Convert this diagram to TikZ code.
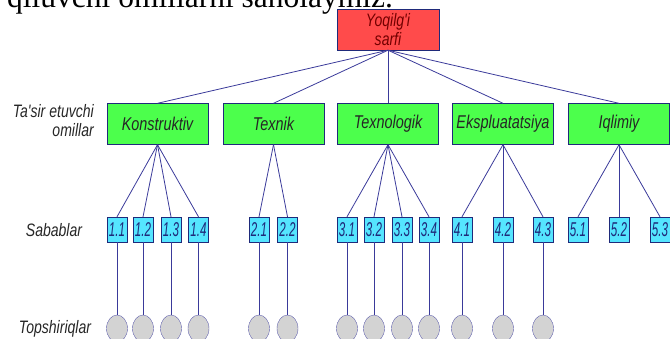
\documentclass[tikz,border=0pt]{standalone}
\usepackage{fontspec}
\usetikzlibrary{shapes.geometric}
\setmainfont{Liberation Serif}
\newfontfamily\isofont[FakeStretch=0.78]{Liberation Sans}
\newfontfamily\isonarrow[FakeStretch=0.58]{Liberation Sans}

\definecolor{topred}{HTML}{FF4B4B}
\definecolor{facgreen}{HTML}{4CFF4C}
\definecolor{causecyan}{HTML}{55E5FF}
\definecolor{taskgray}{HTML}{D3D3D3}
\definecolor{edgenavy}{HTML}{1F2A7A}
\definecolor{linenavy}{HTML}{3A3A9A}

\begin{document}
\begin{tikzpicture}[x=1pt, y=-1pt]

\tikzstyle{TOP} = [rectangle, minimum width=102pt, minimum height=41pt, inner sep=0pt, align=center, draw=edgenavy, fill=topred, text=red!45!black, font=\isofont\itshape\fontsize{18}{19}\selectfont]
\tikzstyle{FACTOR} = [rectangle, minimum width=101pt, minimum height=41pt, inner sep=0pt, draw=edgenavy, fill=facgreen, text=black!85, font=\isofont\itshape\fontsize{18.5}{20}\selectfont]
\tikzstyle{CAUSE} = [rectangle, minimum width=20pt, minimum height=25pt, inner sep=0pt, draw=edgenavy, fill=causecyan, text=edgenavy, font=\isonarrow\itshape\fontsize{20}{22}\selectfont]
\tikzstyle{TASK} = [ellipse, minimum width=21pt, minimum height=27pt, inner sep=0pt, draw=linenavy!80, fill=taskgray]
\tikzstyle{LABEL} = [inner sep=0pt, text=black!85, font=\isofont\itshape\fontsize{18}{19}\selectfont]
\tikzstyle{LINE} = [draw=linenavy, line width=0.8pt]

\useasboundingbox (0,0) rectangle (670,338);
\clip (0,0) rectangle (670,338);

% text of the page above the figure
\node (pagetext) [anchor=base west, inner sep=0pt, font=\fontsize{31.5}{34}\selectfont] at (7,7) {qiluvchi omillarni sanolaymiz.};

% fuel consumption
\node (sarf) [TOP] at (388,29.5) {Yoqilg'i\\sarfi};

% row labels
\node (omil) [LABEL, anchor=east, align=right] at (94,121) {Ta'sir etuvchi\\omillar};
\node (sabab) [LABEL] at (54,230) {Sabablar};
\node (topsh) [LABEL] at (55,329) {Topshiriqlar};

% factors
\node (konst) [FACTOR] at (157.5,124) {Konstruktiv};
\node (texnik) [FACTOR] at (273.5,124) {Texnik};
\node (texnol) [FACTOR] at (388,124) {Texnologik};
\node (ekspl) [FACTOR] at (503,124) {Ekspluatatsiya};
\node (iqlim) [FACTOR] at (619,124) {Iqlimiy};

% causes
\node (s11) [CAUSE] at (117,229.5) {1.1};
\node (s12) [CAUSE] at (143,229.5) {1.2};
\node (s13) [CAUSE] at (171,229.5) {1.3};
\node (s14) [CAUSE] at (198.5,229.5) {1.4};
\node (s21) [CAUSE] at (259,229.5) {2.1};
\node (s22) [CAUSE] at (287.5,229.5) {2.2};
\node (s31) [CAUSE] at (347,229.5) {3.1};
\node (s32) [CAUSE] at (374,229.5) {3.2};
\node (s33) [CAUSE] at (402,229.5) {3.3};
\node (s34) [CAUSE] at (429,229.5) {3.4};
\node (s41) [CAUSE] at (462,229.5) {4.1};
\node (s42) [CAUSE] at (503,229.5) {4.2};
\node (s43) [CAUSE] at (543,229.5) {4.3};
\node (s51) [CAUSE] at (578,229.5) {5.1};
\node (s52) [CAUSE] at (619,229.5) {5.2};
\node (s53) [CAUSE] at (660,229.5) {5.3};

% tasks
\node (t11) [TASK] at (117,328.5) {};
\node (t12) [TASK] at (143,328.5) {};
\node (t13) [TASK] at (171,328.5) {};
\node (t14) [TASK] at (198.5,328.5) {};
\node (t21) [TASK] at (259,328.5) {};
\node (t22) [TASK] at (287.5,328.5) {};
\node (t31) [TASK] at (347,328.5) {};
\node (t32) [TASK] at (374,328.5) {};
\node (t33) [TASK] at (402,328.5) {};
\node (t34) [TASK] at (429,328.5) {};
\node (t41) [TASK] at (462,328.5) {};
\node (t42) [TASK] at (503,328.5) {};
\node (t43) [TASK] at (543,328.5) {};

\draw[LINE] (sarf.south) to (konst.north);
\draw[LINE] (sarf.south) to (texnik.north);
\draw[LINE] (sarf.south) to (texnol.north);
\draw[LINE] (sarf.south) to (ekspl.north);
\draw[LINE] (sarf.south) to (iqlim.north);

\draw[LINE] (konst.south) to (s11.north);
\draw[LINE] (konst.south) to (s12.north);
\draw[LINE] (konst.south) to (s13.north);
\draw[LINE] (konst.south) to (s14.north);
\draw[LINE] (texnik.south) to (s21.north);
\draw[LINE] (texnik.south) to (s22.north);
\draw[LINE] (texnol.south) to (s31.north);
\draw[LINE] (texnol.south) to (s32.north);
\draw[LINE] (texnol.south) to (s33.north);
\draw[LINE] (texnol.south) to (s34.north);
\draw[LINE] (ekspl.south) to (s41.north);
\draw[LINE] (ekspl.south) to (s42.north);
\draw[LINE] (ekspl.south) to (s43.north);
\draw[LINE] (iqlim.south) to (s51.north);
\draw[LINE] (iqlim.south) to (s52.north);
\draw[LINE] (iqlim.south) to (s53.north);

\draw[LINE] (s11.south) to (t11.north);
\draw[LINE] (s12.south) to (t12.north);
\draw[LINE] (s13.south) to (t13.north);
\draw[LINE] (s14.south) to (t14.north);
\draw[LINE] (s21.south) to (t21.north);
\draw[LINE] (s22.south) to (t22.north);
\draw[LINE] (s31.south) to (t31.north);
\draw[LINE] (s32.south) to (t32.north);
\draw[LINE] (s33.south) to (t33.north);
\draw[LINE] (s34.south) to (t34.north);
\draw[LINE] (s41.south) to (t41.north);
\draw[LINE] (s42.south) to (t42.north);
\draw[LINE] (s43.south) to (t43.north);

\end{tikzpicture}
\end{document}
